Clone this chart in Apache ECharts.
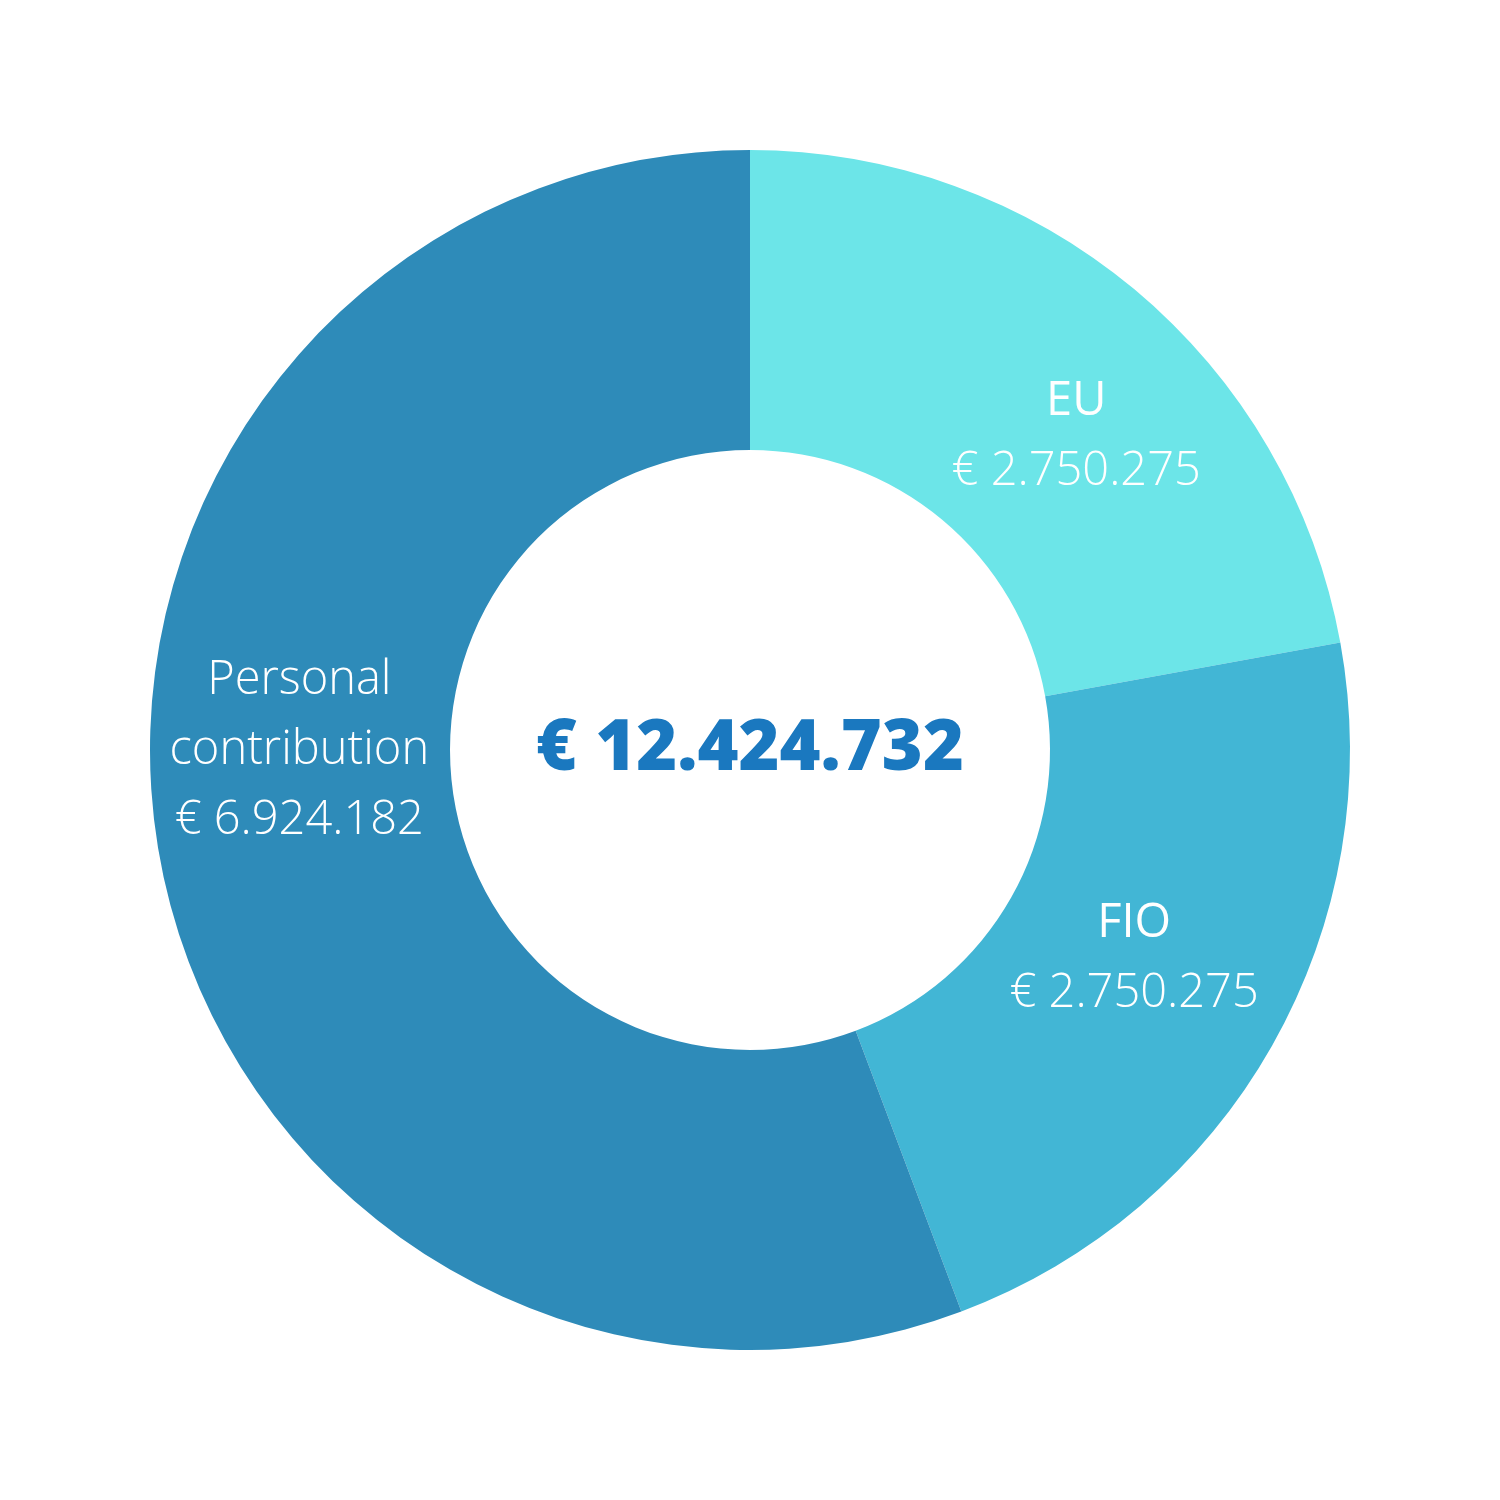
<!DOCTYPE html>
<html>
<head>
<meta charset="utf-8">
<script src="https://cdn.jsdelivr.net/npm/echarts@6/dist/echarts.min.js"></script>
<style>html,body{margin:0;padding:0;background:#fff}#c{width:1500px;height:1500px}</style>
</head>
<body>
<div id="c"></div>
<script>
const categories = ['EU', 'FIO', 'Personal\ncontribution'];
const values = [2750275, 2750275, 6924182];
const colors = ['#6ce5e8', '#42b6d5', '#2e8bb9'];
const labelOffsets = [[36, 34], [-10, -15], [-5, -80]];
const nameWeights = [400, 400, 300];
const totalLabel = '€ 12.424.732';

function fmt(v) {
  return '€ ' + String(v).replace(/\B(?=(\d{3})+(?!\d))/g, '.');
}

const chart = echarts.init(document.getElementById('c'));
chart.setOption({
  animation: false,
  backgroundColor: '#ffffff',
  title: {
    text: totalLabel,
    left: 'center',
    top: 'middle',
    textStyle: {
      color: '#1a78bf',
      fontFamily: 'Open Sans',
      fontWeight: 800,
      fontSize: 70
    }
  },
  series: [{
    type: 'pie',
    center: ['50%', '50%'],
    radius: [300, 600],
    startAngle: 90,
    clockwise: true,
    silent: true,
    label: {
      show: true,
      position: 'inside',
      color: '#ffffff',
      fontFamily: 'Open Sans',
      fontWeight: 300,
      fontSize: 47,
      lineHeight: 70,
      rich: {
        n: { fontFamily: 'Open Sans', fontWeight: 400, fontSize: 47, lineHeight: 70, color: '#ffffff' },
        l: { fontFamily: 'Open Sans', fontWeight: 300, fontSize: 47, lineHeight: 70, color: '#ffffff' }
      },
      formatter: p => {
        const tag = nameWeights[p.dataIndex] === 400 ? 'n' : 'l';
        const nameLines = p.name.split('\n').map(s => '{' + tag + '|' + s + '}').join('\n');
        return nameLines + '\n{l|' + fmt(p.value) + '}';
      }
    },
    labelLine: { show: false },
    data: categories.map((c, i) => ({
      name: c,
      value: values[i],
      itemStyle: { color: colors[i] },
      label: { offset: labelOffsets[i] }
    }))
  }]
});
</script>
</body>
</html>
